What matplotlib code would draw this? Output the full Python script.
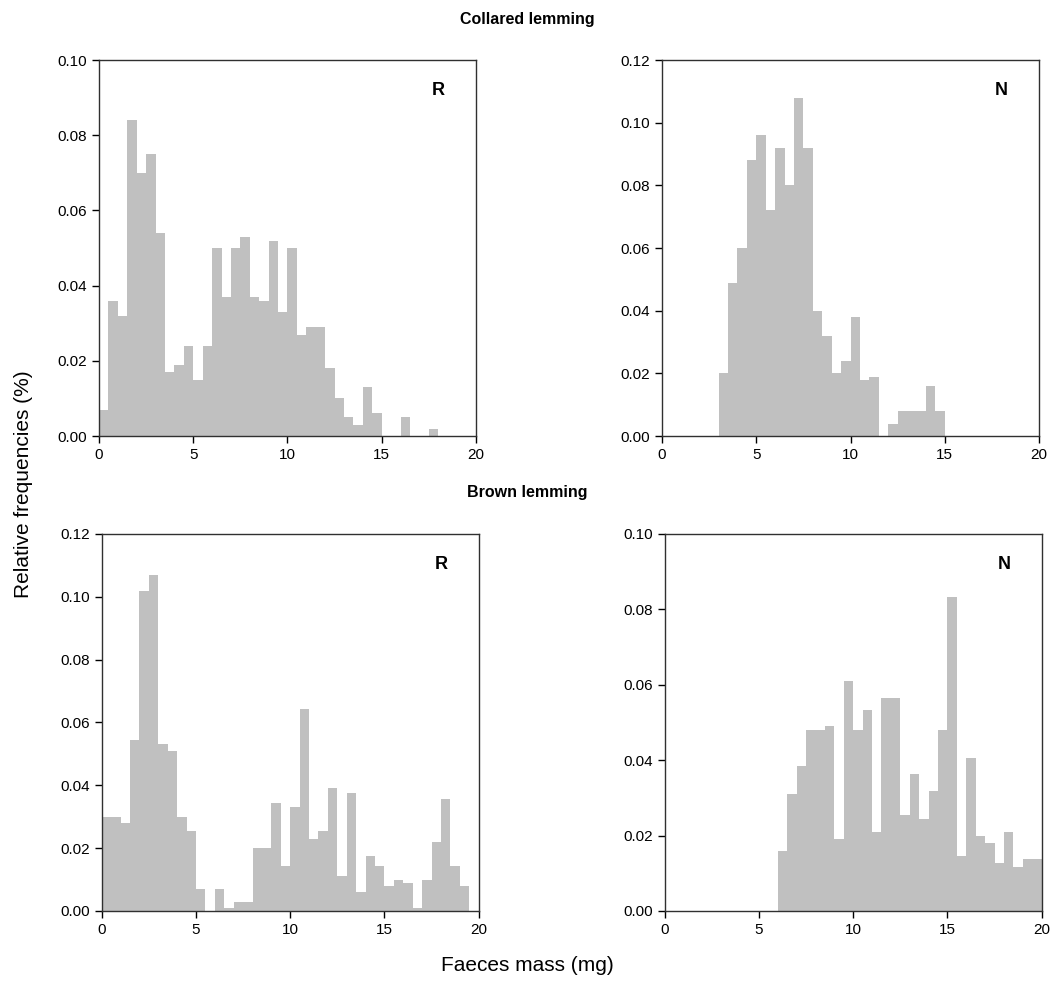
import numpy as np
import matplotlib
matplotlib.use("Agg")
import matplotlib.pyplot as plt

plt.rcParams['font.family'] = ['Liberation Sans', 'DejaVu Sans']

# bin edges: 0.5 mg bins from 0 to 20
edges = np.arange(0, 20.5, 0.5)

collared_R = [0.007, 0.036, 0.032, 0.084, 0.070, 0.075, 0.054, 0.017, 0.019, 0.024,
              0.015, 0.024, 0.050, 0.037, 0.050, 0.053, 0.037, 0.036, 0.052, 0.033,
              0.050, 0.027, 0.029, 0.029, 0.018, 0.010, 0.005, 0.003, 0.013, 0.006,
              0, 0, 0.005, 0, 0, 0.002, 0, 0, 0, 0]
collared_N = [0, 0, 0, 0, 0, 0,
              0.020, 0.049, 0.060, 0.088, 0.096, 0.072, 0.092, 0.080, 0.108, 0.092,
              0.040, 0.032, 0.020, 0.024, 0.038, 0.018, 0.019, 0, 0.004, 0.008,
              0.008, 0.008, 0.016, 0.008,
              0, 0, 0, 0, 0, 0, 0, 0, 0, 0]
brown_R = [0.030, 0.030, 0.028, 0.0545, 0.102, 0.107, 0.053, 0.051, 0.030, 0.0255,
           0.007, 0, 0.007, 0.001, 0.003, 0.003, 0.020, 0.020, 0.0345, 0.0143,
           0.033, 0.0644, 0.023, 0.0255, 0.039, 0.011, 0.0376, 0.006, 0.0175, 0.0143,
           0.008, 0.010, 0.009, 0.001, 0.010, 0.022, 0.0355, 0.0143, 0.008, 0]
brown_N = [0, 0, 0, 0, 0, 0, 0, 0, 0, 0, 0, 0,
           0.016, 0.031, 0.0385, 0.048, 0.048, 0.049, 0.019, 0.061,
           0.048, 0.0534, 0.021, 0.0566, 0.0566, 0.0255, 0.0363, 0.0243, 0.0318, 0.048,
           0.0832, 0.0147, 0.0405, 0.020, 0.018, 0.0127, 0.021, 0.0116, 0.0137, 0.0137]

panels = [
    (collared_R, 'R', 0.10, [0.0939, 0.5591, 0.3577, 0.3802]),
    (collared_N, 'N', 0.12, [0.6281, 0.5591, 0.3577, 0.3802]),
    (brown_R, 'R', 0.12, [0.0965, 0.0789, 0.3577, 0.3812]),
    (brown_N, 'N', 0.10, [0.6306, 0.0789, 0.3577, 0.3812]),
]

fig = plt.figure(figsize=(10.54, 9.89), dpi=100)

for vals, letter, ymax, rect in panels:
    ax = fig.add_axes(rect)
    ax.bar(edges[:-1], vals, width=0.5, align='edge', color='#c0c0c0', linewidth=0)
    ax.set_xlim(0, 20)
    ax.set_ylim(0, ymax)
    ax.set_xticks([0, 5, 10, 15, 20])
    ax.set_yticks(np.arange(0, ymax + 0.001, 0.02))
    ax.yaxis.set_major_formatter(matplotlib.ticker.FormatStrFormatter('%.2f'))
    ax.tick_params(direction='out', length=5, width=1, labelsize=11, colors='black')
    for s in ax.spines.values():
        s.set_linewidth(1)
        s.set_color('#303030')
    ax.text(0.9, 0.92, letter, transform=ax.transAxes, fontsize=13,
            fontweight='bold', ha='center', va='center')

fig.text(0.5, 0.98, 'Collared lemming', ha='center', va='center',
         fontsize=11.5, fontweight='bold')
fig.text(0.5, 0.502, 'Brown lemming', ha='center', va='center',
         fontsize=11.5, fontweight='bold')
fig.text(0.022, 0.51, 'Relative frequencies (%)', rotation=90,
         ha='center', va='center', fontsize=15)
fig.text(0.5, 0.024, 'Faeces mass (mg)', ha='center', va='center', fontsize=15)

fig.savefig('out.png', dpi=100)
